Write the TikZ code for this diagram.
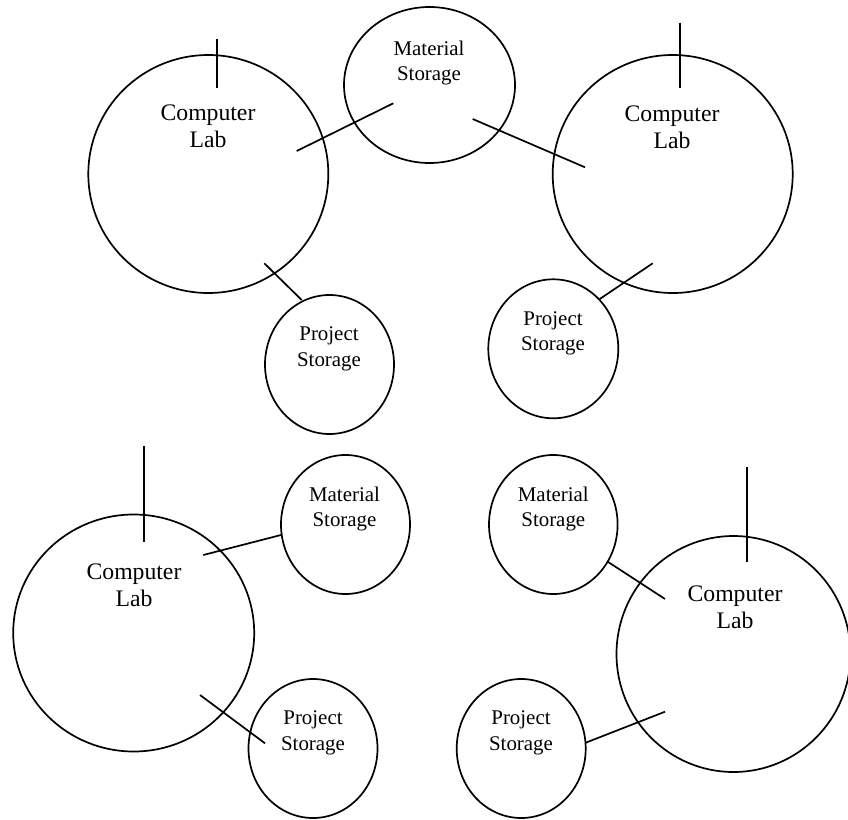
\documentclass[tikz,border=0pt]{standalone}
\usepackage{fontspec}
\setmainfont{Liberation Serif}
\usetikzlibrary{shapes.geometric}
\tikzset{
  room/.style={draw, ellipse, line width=1.7pt, inner sep=0pt, outer sep=0pt},
  bigtxt/.style={align=center, inner sep=0pt, font=\fontsize{23.7}{27}\selectfont},
  smalltxt/.style={align=center, inner sep=0pt, font=\fontsize{20.9}{25.5}\selectfont},
  link/.style={line width=1.7pt}
}
\begin{document}
\begin{tikzpicture}[x=1pt,y=-1pt]
\useasboundingbox (0,0) rectangle (848,819);
% circles
\node[room, minimum width=240, minimum height=238] (cl1) at (208.3,174) {};
\node[room, minimum width=171, minimum height=156] (ms1) at (429.5,85) {};
\node[room, minimum width=240, minimum height=238] (cl2) at (672.7,174) {};
\node[room, minimum width=129, minimum height=139] (ps1) at (329.5,364.5) {};
\node[room, minimum width=130, minimum height=139] (ps2) at (553.3,348.8) {};
\node[room, minimum width=241, minimum height=237] (cl3) at (133.7,633) {};
\node[room, minimum width=129, minimum height=139] (ms3) at (345.5,524.5) {};
\node[room, minimum width=129, minimum height=139] (ps3) at (313,748.5) {};
\node[room, minimum width=128.6, minimum height=139] (ms4) at (553.3,524.5) {};
\node[room, minimum width=234, minimum height=236] (cl4) at (733.5,654) {};
\node[room, minimum width=129, minimum height=139] (ps4) at (521.2,748.5) {};
% texts
\node[bigtxt] (t1) at (208,126.5) {Computer\\Lab};
\node[bigtxt] (t2) at (672,127) {Computer\\Lab};
\node[bigtxt] (t3) at (134,585.5) {Computer\\Lab};
\node[bigtxt] (t4) at (735,607) {Computer\\Lab};
\node[smalltxt] (t5) at (429,63) {Material\\Storage};
\node[smalltxt] (t6) at (329,349) {Project\\Storage};
\node[smalltxt] (t7) at (553,333.4) {Project\\Storage};
\node[smalltxt] (t8) at (344.5,509) {Material\\Storage};
\node[smalltxt] (t9) at (553.3,509) {Material\\Storage};
\node[smalltxt] (t10) at (313,733) {Project\\Storage};
\node[smalltxt] (t11) at (521,733) {Project\\Storage};
% entrance ticks
\coordinate (e1a) at (216.7,39);  \coordinate (e1b) at (216.7,87.7);
\coordinate (e2a) at (680,22.7);  \coordinate (e2b) at (680,87.7);
\coordinate (e3a) at (144,445.7); \coordinate (e3b) at (144,541.7);
\coordinate (e4a) at (746.7,466.7); \coordinate (e4b) at (746.7,562.3);
\draw[link] (e1a) -- (e1b);
\draw[link] (e2a) -- (e2b);
\draw[link] (e3a) -- (e3b);
\draw[link] (e4a) -- (e4b);
% connector end points
\coordinate (c1a) at (296.7,151);   \coordinate (c1b) at (393.3,103.3);
\coordinate (c2a) at (472.7,119);   \coordinate (c2b) at (585,167.3);
\coordinate (c3a) at (264.3,263.3); \coordinate (c3b) at (301.7,300);
\coordinate (c4a) at (652.7,263.3); \coordinate (c4b) at (599.3,299.3);
\coordinate (c5a) at (203.3,555);   \coordinate (c5b) at (281,535);
\coordinate (c6a) at (200,695);     \coordinate (c6b) at (265,743.3);
\coordinate (c7a) at (607.7,561.7); \coordinate (c7b) at (665,599);
\coordinate (c8a) at (585.7,742.7); \coordinate (c8b) at (665,711.7);
\draw[link] (c1a) -- (c1b);
\draw[link] (c2a) -- (c2b);
\draw[link] (c3a) -- (c3b);
\draw[link] (c4a) -- (c4b);
\draw[link] (c5a) -- (c5b);
\draw[link] (c6a) -- (c6b);
\draw[link] (c7a) -- (c7b);
\draw[link] (c8a) -- (c8b);
\end{tikzpicture}
\end{document}
